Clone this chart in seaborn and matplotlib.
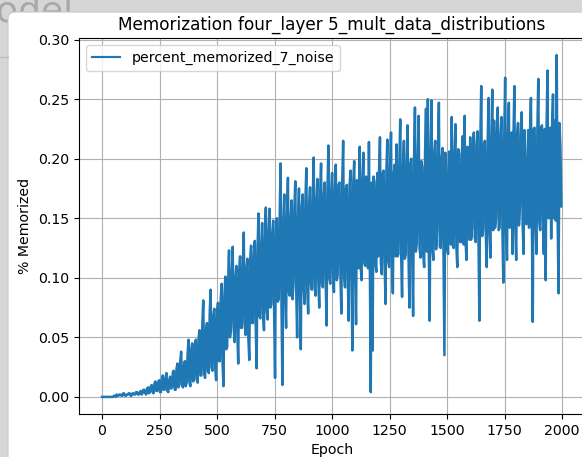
import numpy as np
import pandas as pd
import matplotlib
matplotlib.use("Agg")
import matplotlib.pyplot as plt
import seaborn as sns
from matplotlib.patches import FancyBboxPatch
from matplotlib.transforms import IdentityTransform

# ---- data (one value every 4 epochs) ----
epochs = list(range(0, 2000, 4))
percent_memorized_7_noise = [
    0.000, 0.000, 0.000, 0.000, 0.000, 0.000, 0.000, 0.000, 0.000, 0.000, 0.000, 0.000, 0.000, 0.001, 0.001, 0.000, 0.002, 0.001, 0.001, 0.002,
    0.002, 0.001, 0.001, 0.003, 0.003, 0.001, 0.001, 0.002, 0.002, 0.003, 0.003, 0.001, 0.001, 0.003, 0.003, 0.002, 0.002, 0.004, 0.004, 0.002,
    0.002, 0.004, 0.005, 0.002, 0.003, 0.006, 0.006, 0.003, 0.002, 0.007, 0.008, 0.003, 0.004, 0.009, 0.010, 0.004, 0.003, 0.011, 0.013, 0.005,
    0.005, 0.012, 0.014, 0.004, 0.004, 0.015, 0.018, 0.006, 0.006, 0.016, 0.020, 0.005, 0.004, 0.014, 0.017, 0.007, 0.008, 0.021, 0.022, 0.006,
    0.006, 0.024, 0.028, 0.008, 0.010, 0.030, 0.038, 0.010, 0.008, 0.026, 0.030, 0.009, 0.012, 0.036, 0.048, 0.012, 0.009, 0.040, 0.045, 0.013,
    0.014, 0.044, 0.048, 0.015, 0.012, 0.050, 0.056, 0.018, 0.018, 0.060, 0.081, 0.020, 0.016, 0.055, 0.062, 0.022, 0.020, 0.070, 0.090, 0.025,
    0.022, 0.068, 0.074, 0.025, 0.014, 0.070, 0.079, 0.030, 0.030, 0.082, 0.095, 0.028, 0.009, 0.085, 0.101, 0.040, 0.042, 0.095, 0.123, 0.050,
    0.056, 0.105, 0.126, 0.060, 0.046, 0.100, 0.110, 0.055, 0.028, 0.105, 0.118, 0.058, 0.058, 0.112, 0.138, 0.062, 0.052, 0.108, 0.116, 0.050,
    0.031, 0.115, 0.127, 0.062, 0.062, 0.120, 0.131, 0.060, 0.024, 0.125, 0.154, 0.068, 0.066, 0.128, 0.146, 0.070, 0.056, 0.135, 0.159, 0.072,
    0.065, 0.140, 0.158, 0.075, 0.078, 0.138, 0.148, 0.072, 0.016, 0.142, 0.150, 0.080, 0.082, 0.150, 0.196, 0.078, 0.010, 0.145, 0.170, 0.085,
    0.058, 0.152, 0.184, 0.088, 0.085, 0.150, 0.165, 0.082, 0.095, 0.158, 0.181, 0.090, 0.050, 0.150, 0.175, 0.088, 0.040, 0.160, 0.170, 0.092,
    0.078, 0.165, 0.192, 0.090, 0.070, 0.160, 0.176, 0.095, 0.090, 0.168, 0.201, 0.092, 0.085, 0.165, 0.183, 0.098, 0.075, 0.170, 0.196, 0.095,
    0.092, 0.170, 0.180, 0.098, 0.060, 0.175, 0.211, 0.100, 0.095, 0.172, 0.188, 0.102, 0.088, 0.176, 0.195, 0.098, 0.102, 0.178, 0.180, 0.105,
    0.070, 0.180, 0.215, 0.104, 0.092, 0.175, 0.178, 0.100, 0.064, 0.178, 0.190, 0.108, 0.039, 0.180, 0.198, 0.105, 0.061, 0.182, 0.175, 0.108,
    0.210, 0.110, 0.098, 0.182, 0.205, 0.112, 0.110, 0.185, 0.182, 0.108, 0.214, 0.110, 0.004, 0.180, 0.039, 0.185, 0.180, 0.112, 0.105, 0.188,
    0.118, 0.190, 0.218, 0.112, 0.103, 0.188, 0.190, 0.115, 0.078, 0.190, 0.216, 0.114, 0.109, 0.192, 0.222, 0.115, 0.087, 0.188, 0.195, 0.118,
    0.212, 0.118, 0.120, 0.195, 0.233, 0.120, 0.084, 0.192, 0.215, 0.116, 0.120, 0.198, 0.228, 0.118, 0.075, 0.196, 0.200, 0.120, 0.068, 0.200,
    0.243, 0.122, 0.130, 0.200, 0.236, 0.125, 0.117, 0.198, 0.193, 0.120, 0.109, 0.205, 0.242, 0.122, 0.250, 0.125, 0.064, 0.205, 0.249, 0.124,
    0.115, 0.205, 0.215, 0.124, 0.140, 0.208, 0.247, 0.126, 0.125, 0.200, 0.209, 0.122, 0.035, 0.205, 0.190, 0.125, 0.120, 0.206, 0.201, 0.128,
    0.235, 0.128, 0.125, 0.205, 0.229, 0.126, 0.109, 0.208, 0.204, 0.130, 0.130, 0.206, 0.219, 0.128, 0.236, 0.130, 0.115, 0.210, 0.195, 0.132,
    0.218, 0.132, 0.142, 0.210, 0.222, 0.134, 0.130, 0.212, 0.223, 0.133, 0.064, 0.214, 0.261, 0.135, 0.140, 0.212, 0.215, 0.136, 0.109, 0.215,
    0.251, 0.138, 0.117, 0.215, 0.258, 0.140, 0.232, 0.142, 0.151, 0.218, 0.243, 0.140, 0.142, 0.220, 0.235, 0.142, 0.096, 0.218, 0.268, 0.140,
    0.115, 0.220, 0.247, 0.142, 0.150, 0.222, 0.120, 0.218, 0.261, 0.143, 0.115, 0.220, 0.230, 0.144, 0.160, 0.222, 0.239, 0.145, 0.120, 0.224,
    0.200, 0.145, 0.150, 0.224, 0.142, 0.222, 0.251, 0.146, 0.063, 0.225, 0.226, 0.146, 0.120, 0.224, 0.267, 0.148, 0.140, 0.226, 0.228, 0.147,
    0.120, 0.225, 0.098, 0.228, 0.274, 0.150, 0.170, 0.226, 0.133, 0.230, 0.254, 0.150, 0.232, 0.148, 0.287, 0.150, 0.087, 0.230, 0.210, 0.160,
]
series_name = "percent_memorized_7_noise"
title = "Memorization four_layer 5_mult_data_distributions"
x_label = "Epoch"
y_label = "% Memorized"

df = pd.DataFrame({x_label: epochs, series_name: percent_memorized_7_noise})

W, H = 582, 457
fig = plt.figure(figsize=(W / 100, H / 100), dpi=100, facecolor="#d6d6d6")

# screenshot framing: grey app background, white figure panel
fig.text(-4 / W, 1 + 6 / H, "odel", fontsize=26, color="#a9a9a9",
         ha="left", va="top", zorder=0)
panel = FancyBboxPatch((8, -30), 640, (H - 12) + 30,
                       boxstyle="round,pad=0,rounding_size=7",
                       transform=IdentityTransform(), facecolor="white",
                       edgecolor="#c8c8c8", linewidth=0.8, zorder=1)
fig.patches.append(panel)
fig.add_artist(plt.Line2D([0, 8 / W], [1 - 57 / H, 1 - 57 / H],
                          color="#bdbdbd", lw=1, transform=fig.transFigure))

ax = fig.add_axes([79 / W, 43 / H, 506 / W, 376 / H])
ax.set_zorder(2)
sns.lineplot(data=df, x=x_label, y=series_name, ax=ax, label=series_name,
             color="#1f77b4", linewidth=1.8)

ax.set_xlim(-99.95, 2098.95)
ax.set_ylim(-0.01435, 0.30135)
ax.set_xticks([0, 250, 500, 750, 1000, 1250, 1500, 1750, 2000])
ax.set_yticks([0.00, 0.05, 0.10, 0.15, 0.20, 0.25, 0.30])
ax.grid(True, color="#b0b0b0", linewidth=0.8)
ax.set_axisbelow(True)
ax.tick_params(labelsize=10.2)
ax.set_title(title, fontsize=12.2)
ax.set_xlabel(x_label, fontsize=10.2)
ax.set_ylabel(y_label, fontsize=10.2)
leg = ax.legend(loc="upper left", fontsize=10.2)
for line in leg.get_lines():
    line.set_linewidth(1.55)

fig.savefig("out.png", dpi=100, facecolor=fig.get_facecolor())
